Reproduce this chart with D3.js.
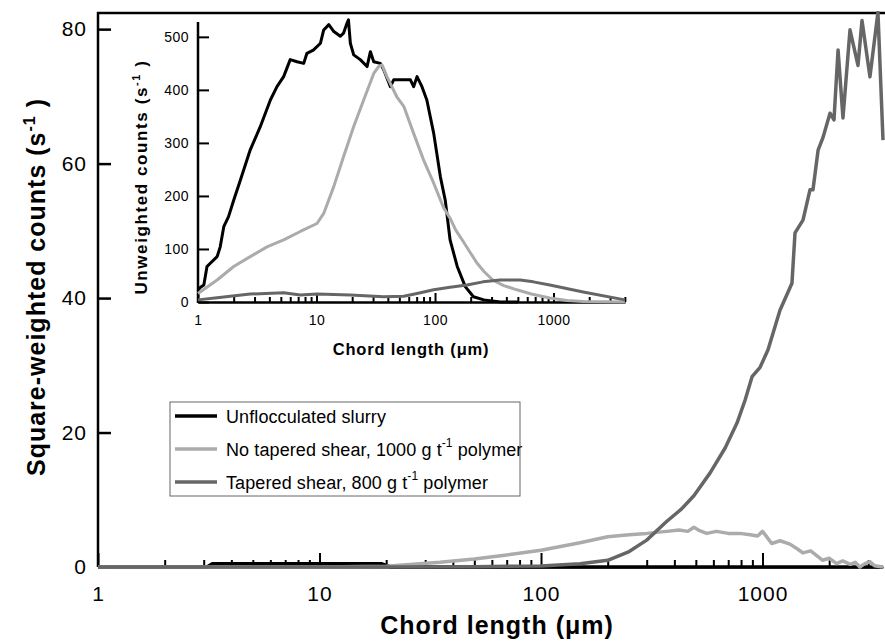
<!DOCTYPE html>
<html>
<head>
<meta charset="utf-8">
<script src="https://cdn.jsdelivr.net/npm/d3@7"></script>
<style>
body { margin: 0; background: #fff; }
text { font-family: "Liberation Sans", Arial, sans-serif; fill: #000; }
</style>
</head>
<body>
<svg id="chart" width="885" height="644"></svg>
<script>
// main plot: square-weighted counts vs chord length
const mainBlackX = [1, 3.1, 3.3, 19, 21, 3500];
const mainBlackY = [0, 0, 0.5, 0.5, 0, 0];

const mainLightX = [1, 10, 20, 35, 50, 70, 100, 150, 200, 250, 300, 370, 420, 460, 490, 520, 560, 620, 700, 790, 880, 950, 1000, 1050, 1100, 1200, 1330, 1450, 1520, 1650, 1870, 2000, 2160, 2300, 2490, 2620, 2750, 2900, 3050, 3200, 3500];
const mainLightY = [0, 0, 0.1, 0.7, 1.2, 1.8, 2.5, 3.6, 4.5, 4.8, 5.0, 5.3, 5.5, 5.3, 5.9, 5.4, 5.0, 5.3, 5.0, 5.0, 4.8, 4.6, 5.3, 4.4, 3.5, 3.9, 3.4, 2.6, 2.1, 2.4, 1.0, 1.3, 0.5, 0.9, 0.4, 0.7, 0, 0.5, 0.8, 0.2, 0];

const mainDarkX = [1, 20, 50, 100, 150, 200, 250, 300, 370, 430, 490, 580, 678, 767, 834, 897, 975, 1059, 1199, 1358, 1402, 1523, 1638, 1690, 1782, 1876, 2017, 2102, 2193, 2308, 2483, 2698, 2813, 3055, 3320, 3499];
const mainDarkY = [0, 0, 0.05, 0.15, 0.5, 1.0, 2.3, 4.0, 6.8, 8.6, 10.6, 14, 17.7, 21.4, 24.8, 28.3, 29.7, 32.3, 38.2, 42.2, 49.7, 51.6, 56.1, 56.1, 62, 63.9, 67.5, 66.5, 76.9, 66.8, 79.9, 74.6, 81.3, 72.9, 82.5, 63.5];

// inset: unweighted counts
const insetBlackX = [1, 1.05, 1.12, 1.19, 1.27, 1.45, 1.54, 1.65, 1.81, 2.0, 2.28, 2.76, 3.36, 4.08, 4.64, 5.28, 6.0, 6.85, 7.8, 8.3, 9.4, 10.8, 11.5, 12.7, 14.0, 15.9, 16.9, 18.1, 18.6, 19.3, 20.6, 23.4, 26.7, 28.5, 30.4, 34.6, 36.9, 42, 44.8, 54.5, 62, 66, 70.5, 77.6, 85.3, 97.5, 111, 122, 134, 154, 180, 211, 258, 356, 500];
const insetBlackY = [22.6, 27.7, 32, 66.7, 73, 85.5, 104, 142, 161, 192, 230, 287, 331, 381, 406, 425, 457, 453, 450, 469, 475, 488, 513, 523, 510, 501, 507, 526, 532, 488, 466, 457, 444, 472, 453, 450, 438, 406, 419, 419, 419, 406, 425, 406, 381, 318, 236, 192, 117, 67, 29, 10, 4, 0, 0];

const insetLightX = [1, 1.45, 2.0, 2.76, 3.82, 5.28, 7.3, 10.1, 11.5, 14.0, 16.9, 20.6, 25, 30.4, 33.4, 35.7, 39.3, 47.6, 54.5, 66, 80, 97.5, 118, 134, 150, 172, 200, 225, 260, 309, 380, 490, 650, 930, 1300, 1780, 4000];
const insetLightY = [16, 41.5, 67, 85.5, 104, 117, 133, 148, 167, 218, 274, 331, 381, 431, 444, 447, 425, 387, 369, 318, 268, 224, 178, 158, 135, 115, 92, 74, 57, 41, 31, 23, 15, 7.5, 3, 1, 0];

const insetDarkX = [1, 1.45, 2.76, 5.28, 7.3, 10.1, 19.3, 36.9, 54.5, 70.5, 97.5, 134, 186, 254, 354, 524, 675, 930, 1780, 4000];
const insetDarkY = [4, 8, 15, 17.6, 13, 15, 13, 10, 11, 16, 23, 28, 32, 38, 41.5, 41.5, 38, 32, 19, 4];

const legendLabels = ["Unflocculated slurry", "No tapered shear, 1000 g t", "Tapered shear, 800 g t"];
const legendTails = ["", " polymer", " polymer"];
const colors = ["#000000", "#ababab", "#666666"];

const svg = d3.select("#chart");

// ---------- main plot ----------
const x = d3.scaleLog().domain([1, 3499]).range([98, 883]);
const y = d3.scaleLinear().domain([0, 82.4]).range([567, 13]);

svg.append("defs").append("clipPath").attr("id", "mainClip")
  .append("rect").attr("x", 98).attr("y", 11).attr("width", 790).attr("height", 560);

const mainSeries = [
  { xs: mainBlackX, ys: mainBlackY, c: colors[0] },
  { xs: mainLightX, ys: mainLightY, c: colors[1] },
  { xs: mainDarkX, ys: mainDarkY, c: colors[2] },
];

// x axis, major + minor ticks pointing up
const majorX = [1, 10, 100, 1000];
const minorX = x.ticks().filter(d => !majorX.includes(d));

const xAxisG = svg.append("g").attr("transform", "translate(0,567)");
xAxisG.call(d3.axisBottom(x).tickValues(majorX).tickSize(-14).tickSizeOuter(0)
  .tickPadding(14).tickFormat(d3.format("d")));
xAxisG.append("g").call(d3.axisBottom(x).tickValues(minorX).tickSize(-7).tickFormat(""))
  .select(".domain").remove();
xAxisG.selectAll("line").attr("stroke-width", 2);
xAxisG.select(".domain").attr("stroke-width", 2);
xAxisG.selectAll("text").attr("font-size", 21).attr("dy", "0.95em").attr("letter-spacing", 1);

const yAxisG = svg.append("g").attr("transform", "translate(98,0)");
yAxisG.call(d3.axisLeft(y).tickValues([0, 20, 40, 60, 80]).tickSize(-13).tickSizeOuter(0).tickPadding(11));
yAxisG.selectAll("line").attr("stroke-width", 2.5);
yAxisG.select(".domain").attr("d", "M0,567V12").attr("stroke-width", 2.5);
yAxisG.selectAll("text").attr("font-size", 21).attr("letter-spacing", 1);

// top border
svg.append("line").attr("x1", 97).attr("x2", 885).attr("y1", 13).attr("y2", 13)
  .attr("stroke", "#000").attr("stroke-width", 2.5);

const mainLine = d3.line().x(d => x(d[0])).y(d => y(d[1]));
const mainLines = svg.append("g").attr("clip-path", "url(#mainClip)");
mainSeries.forEach(s => {
  mainLines.append("path")
    .datum(d3.zip(s.xs, s.ys))
    .attr("fill", "none")
    .attr("stroke", s.c)
    .attr("stroke-width", 3.5)
    .attr("stroke-linejoin", "round")
    .attr("d", mainLine);
});

// axis titles
const xTitle = svg.append("text").attr("x", 497).attr("y", 634).attr("text-anchor", "middle")
  .attr("font-size", 25).attr("font-weight", "bold").attr("letter-spacing", 1);
xTitle.append("tspan").text("Chord length (");
xTitle.append("tspan").text("\u03bc");
xTitle.append("tspan").text("m)");

const yTitle = svg.append("text")
  .attr("transform", "translate(45,287) rotate(-90)")
  .attr("text-anchor", "middle")
  .attr("font-size", 25).attr("font-weight", "bold").attr("letter-spacing", 1);
yTitle.append("tspan").text("Square-weighted counts (s");
yTitle.append("tspan").attr("dy", -10).attr("font-size", 16).text("-1");
yTitle.append("tspan").attr("dy", 10).text(" )");

// ---------- legend ----------
const legend = svg.append("g");
legend.append("rect").attr("x", 170).attr("y", 402).attr("width", 350).attr("height", 94)
  .attr("fill", "#fff").attr("stroke", "#666").attr("stroke-width", 1);
legendLabels.forEach((lab, i) => {
  const yy = 416 + i * 33;
  legend.append("line").attr("x1", 175).attr("x2", 217).attr("y1", yy).attr("y2", yy)
    .attr("stroke", colors[i]).attr("stroke-width", 3.5);
  const t = legend.append("text").attr("x", 226).attr("y", yy + 7).attr("font-size", 18)
    .attr("letter-spacing", 0.1);
  t.append("tspan").text(lab);
  if (legendTails[i]) {
    t.append("tspan").attr("dy", -9).attr("font-size", 12).text("-1");
    t.append("tspan").attr("dy", 9).text(legendTails[i]);
  }
});

// ---------- inset ----------
const xi = d3.scaleLog().domain([1, 4010]).range([198, 625]);
const yi = d3.scaleLinear().domain([0, 528]).range([302, 22]);

const minorXi = xi.ticks().filter(d => !majorX.includes(d));
const xiAxisG = svg.append("g").attr("transform", "translate(0,302)");
xiAxisG.call(d3.axisBottom(xi).tickValues(majorX).tickSize(-9).tickSizeOuter(0)
  .tickPadding(10).tickFormat(d3.format("d")));
xiAxisG.append("g").call(d3.axisBottom(xi).tickValues(minorXi).tickSize(-5).tickFormat(""))
  .select(".domain").remove();
xiAxisG.selectAll("line").attr("stroke-width", 2);
xiAxisG.select(".domain").attr("stroke-width", 2.5);
xiAxisG.selectAll("text").attr("font-size", 14).attr("dy", "0.9em").attr("letter-spacing", 0.5);

const yiAxisG = svg.append("g").attr("transform", "translate(198,0)");
yiAxisG.call(d3.axisLeft(yi).tickValues([0, 100, 200, 300, 400, 500]).tickSize(-11).tickSizeOuter(0).tickPadding(9));
yiAxisG.selectAll("line").attr("stroke-width", 2);
yiAxisG.select(".domain").attr("d", "M0,303V22").attr("stroke-width", 2.5);
yiAxisG.selectAll("text").attr("font-size", 14).attr("letter-spacing", 0.5);

const insetSeries = [
  { xs: insetBlackX, ys: insetBlackY, c: colors[0] },
  { xs: insetLightX, ys: insetLightY, c: colors[1] },
  { xs: insetDarkX, ys: insetDarkY, c: colors[2] },
];
const insetLine = d3.line().x(d => xi(d[0])).y(d => yi(d[1]));
insetSeries.forEach(s => {
  svg.append("path")
    .datum(d3.zip(s.xs, s.ys))
    .attr("fill", "none")
    .attr("stroke", s.c)
    .attr("stroke-width", 3)
    .attr("stroke-linejoin", "round")
    .attr("d", insetLine);
});

const xiTitle = svg.append("text").attr("x", 411).attr("y", 355).attr("text-anchor", "middle")
  .attr("font-size", 16.5).attr("font-weight", "bold").attr("letter-spacing", 0.8);
xiTitle.text("Chord length (\u03bcm)");

const yiTitle = svg.append("text")
  .attr("transform", "translate(147,177) rotate(-90)")
  .attr("text-anchor", "middle")
  .attr("font-size", 17).attr("font-weight", "bold").attr("letter-spacing", 1.6);
yiTitle.append("tspan").text("Unweighted counts (s");
yiTitle.append("tspan").attr("dy", -7).attr("font-size", 11).text("-1");
yiTitle.append("tspan").attr("dy", 7).text(" )");
</script>
</body>
</html>
